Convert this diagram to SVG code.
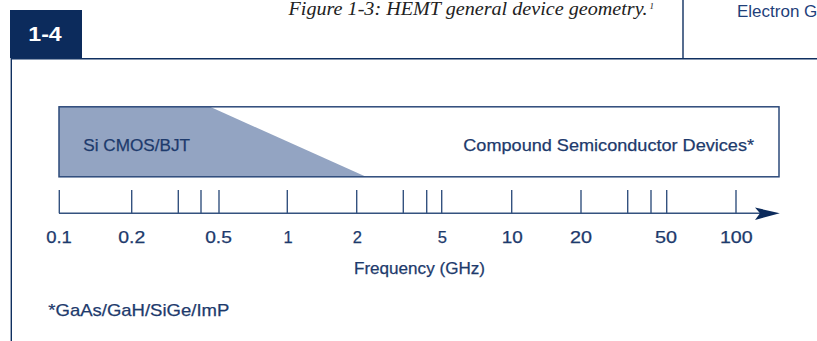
<svg xmlns="http://www.w3.org/2000/svg" width="817" height="341" viewBox="0 0 817 341">
  <defs>
    <style>
      .frame { stroke: #0f2f60; stroke-width: 1.4; fill: none; }
      .line { stroke: #34527f; stroke-width: 1.4; fill: none; }
      .lbl { font-family: "Liberation Sans", Arial, sans-serif; font-size: 17px; fill: #1d3a6c; stroke: #1d3a6c; stroke-width: 0.25; }
      .tick-lbl { font-family: "Liberation Sans", Arial, sans-serif; font-size: 16.5px; fill: #1d3a6c; stroke: #1d3a6c; stroke-width: 0.25; text-anchor: middle; }
    </style>
  </defs>

  <rect width="817" height="341" fill="#ffffff"/>

  <!-- page header -->
  <g id="header">
    <rect x="10" y="10" width="72" height="48" fill="#0c2b5c"/>
    <text x="28.3" y="41" font-family="Liberation Sans, Arial, sans-serif" font-size="20" font-weight="bold" fill="#ffffff" textLength="33.4" lengthAdjust="spacingAndGlyphs">1-4</text>
    <text x="288.5" y="14.5" font-family="Liberation Serif, Times New Roman, serif" font-style="italic" font-size="18.5" fill="#222222" textLength="359" lengthAdjust="spacingAndGlyphs">Figure 1-3: HEMT general device geometry.</text>
    <text x="649.5" y="9" font-family="Liberation Serif, Times New Roman, serif" font-style="italic" font-size="9" fill="#222222">1</text>
    <line x1="683" y1="0" x2="683" y2="58.5" class="frame"/>
    <text x="737" y="16.7" font-family="Liberation Sans, Arial, sans-serif" font-size="17" fill="#1f3f7a">Electron G</text>
    <polyline points="817,58.7 11.3,58.7 11.3,341" class="frame"/>
  </g>

  <!-- technology band: silicon wedge under the outlined box -->
  <g id="band">
    <rect x="59" y="106.8" width="720" height="70" fill="#ffffff"/>
    <polygon points="59,106.8 210,106.8 366,176.8 59,176.8" fill="#93a4c2"/>
    <rect x="59" y="106.8" width="720" height="70" fill="none" stroke="#2d4a7a" stroke-width="1.5"/>
    <text x="83.3" y="151" class="lbl" textLength="106.7" lengthAdjust="spacingAndGlyphs">Si CMOS/BJT</text>
    <text x="463.3" y="150.5" class="lbl" textLength="290.7" lengthAdjust="spacingAndGlyphs">Compound Semiconductor Devices*</text>
  </g>

  <!-- frequency axis -->
  <g id="axis">
    <line x1="59" y1="213.3" x2="762" y2="213.3" class="line"/>
    <path d="M779.8,213.3 L755,207.5 L760,213.3 L755,220 Z" fill="#0c2b5c"/>
    <g class="line">
      <line x1="59.3" y1="190" x2="59.3" y2="213.3"/>
      <line x1="131.7" y1="190" x2="131.7" y2="213.3"/>
      <line x1="178.3" y1="190" x2="178.3" y2="213.3"/>
      <line x1="201" y1="190" x2="201" y2="213.3"/>
      <line x1="219" y1="190" x2="219" y2="213.3"/>
      <line x1="287.3" y1="190" x2="287.3" y2="213.3"/>
      <line x1="356.7" y1="190" x2="356.7" y2="213.3"/>
      <line x1="403.3" y1="190" x2="403.3" y2="213.3"/>
      <line x1="426.7" y1="190" x2="426.7" y2="213.3"/>
      <line x1="441.7" y1="190" x2="441.7" y2="213.3"/>
      <line x1="511.7" y1="190" x2="511.7" y2="213.3"/>
      <line x1="581" y1="190" x2="581" y2="213.3"/>
      <line x1="627.7" y1="190" x2="627.7" y2="213.3"/>
      <line x1="651" y1="190" x2="651" y2="213.3"/>
      <line x1="666.7" y1="190" x2="666.7" y2="213.3"/>
      <line x1="736" y1="190" x2="736" y2="213.3"/>
    </g>
    <text x="59" y="243.3" class="tick-lbl" textLength="25.7" lengthAdjust="spacingAndGlyphs">0.1</text>
    <text x="131.7" y="243.3" class="tick-lbl" textLength="27" lengthAdjust="spacingAndGlyphs">0.2</text>
    <text x="218.5" y="243.3" class="tick-lbl" textLength="26.7" lengthAdjust="spacingAndGlyphs">0.5</text>
    <text x="288" y="243.3" class="tick-lbl">1</text>
    <text x="357.3" y="243.3" class="tick-lbl">2</text>
    <text x="442.3" y="243.3" class="tick-lbl">5</text>
    <text x="512.2" y="243.3" class="tick-lbl" textLength="21" lengthAdjust="spacingAndGlyphs">10</text>
    <text x="581" y="243.3" class="tick-lbl" textLength="22" lengthAdjust="spacingAndGlyphs">20</text>
    <text x="666" y="243.3" class="tick-lbl" textLength="22" lengthAdjust="spacingAndGlyphs">50</text>
    <text x="736.3" y="243.3" class="tick-lbl" textLength="32.7" lengthAdjust="spacingAndGlyphs">100</text>
    <text x="354" y="274" class="lbl" textLength="131" lengthAdjust="spacingAndGlyphs">Frequency (GHz)</text>
  </g>

  <!-- footnote -->
  <g id="footnote">
    <text x="48.3" y="316" class="lbl" textLength="181" lengthAdjust="spacingAndGlyphs">*GaAs/GaH/SiGe/ImP</text>
  </g>
</svg>
